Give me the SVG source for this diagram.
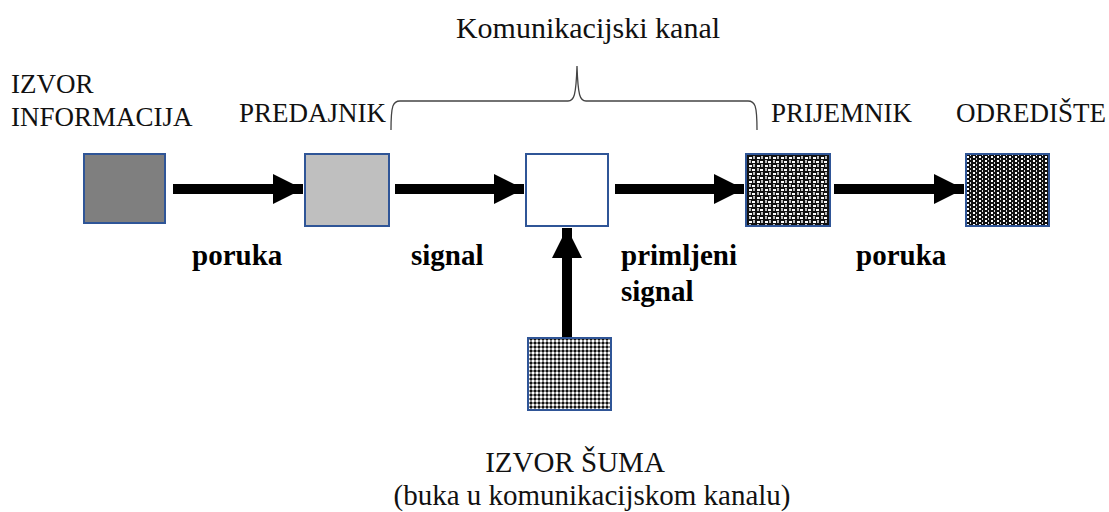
<svg xmlns="http://www.w3.org/2000/svg" width="1109" height="512" viewBox="0 0 1109 512">
<style>
.n{stroke:#2f5597;stroke-width:2}
.a{stroke:#000;stroke-width:10;fill:none}
.t{font-family:'Liberation Serif','Times New Roman',serif;font-size:27px;fill:#111}
.b{font-family:'Liberation Serif','Times New Roman',serif;font-size:29px;font-weight:bold;fill:#000}
</style>
<defs>
<pattern id="weave" width="8" height="8" patternUnits="userSpaceOnUse">
<rect width="8" height="8" fill="#111"/>
<rect x="0" y="1" width="3" height="2" fill="#fff"/>
<rect x="5" y="5" width="3" height="2" fill="#fff"/>
<rect x="1" y="4" width="2" height="3" fill="#bbb"/>
<rect x="5" y="0" width="2" height="3" fill="#bbb"/>
</pattern>
<pattern id="vstripe" width="6" height="4" patternUnits="userSpaceOnUse">
<rect width="6" height="4" fill="#111"/>
<rect x="1" y="0" width="2" height="2" fill="#fff"/>
<rect x="4" y="2" width="1" height="2" fill="#ddd"/>
</pattern>
<pattern id="check" width="4" height="4" patternUnits="userSpaceOnUse">
<rect width="4" height="4" fill="#888"/>
<rect x="0" y="0" width="2" height="2" fill="#fff"/>
<rect x="2" y="2" width="2" height="2" fill="#111"/>
</pattern>
<marker id="ah" viewBox="0 0 10 10" refX="10" refY="5" markerWidth="3" markerHeight="3" orient="auto" markerUnits="strokeWidth">
<path d="M0,0 L10,5 L0,10 Z" fill="#000"/>
</marker>
</defs>
<text class="t" x="588" y="38" text-anchor="middle" style="font-size:30px">Komunikacijski kanal</text>
<path d="M391,130 C391,105 393,101 400,101 L568,101 C574,101 576,96 577,66 C578,96 580,101 586,101 L748,101 C755,101 757,105 757,130" fill="none" stroke="#444" stroke-width="1.3"/>
<g id="izvor">
<rect class="n" x="84" y="154" width="81" height="69" fill="#7f7f7f"/>
<text class="t" x="11" y="93">IZVOR</text>
<text class="t" x="11" y="126">INFORMACIJA</text>
</g>
<g id="predajnik">
<rect class="n" x="305" y="154" width="84" height="72" fill="#bfbfbf"/>
<text class="t" x="239" y="122">PREDAJNIK</text>
</g>
<g id="kanal">
<rect class="n" x="526" y="154" width="82" height="72" fill="#fff"/>
</g>
<g id="prijemnik">
<rect class="n" x="746" y="154" width="84" height="72" fill="url(#weave)"/>
<text class="t" x="771" y="122">PRIJEMNIK</text>
</g>
<g id="odrediste">
<rect class="n" x="966" y="154" width="83" height="72" fill="url(#vstripe)"/>
<text class="t" x="956" y="122">ODREDIŠTE</text>
</g>
<g id="sum">
<rect class="n" x="528" y="338" width="83" height="72" fill="url(#check)"/>
<text class="t" x="575" y="472" text-anchor="middle" style="font-size:29px">IZVOR ŠUMA</text>
<text class="t" x="592" y="505" text-anchor="middle" style="font-size:29px">(buka u komunikacijskom kanalu)</text>
</g>
<g id="connectors">
<line class="a" x1="173" y1="189" x2="303" y2="189" marker-end="url(#ah)"/>
<line class="a" x1="395" y1="189" x2="524" y2="189" marker-end="url(#ah)"/>
<line class="a" x1="615" y1="189" x2="744" y2="189" marker-end="url(#ah)"/>
<line class="a" x1="834" y1="189" x2="964" y2="189" marker-end="url(#ah)"/>
<line class="a" x1="567" y1="337" x2="567" y2="228" marker-end="url(#ah)"/>
</g>
<text class="b" x="192" y="265">poruka</text>
<text class="b" x="411" y="265">signal</text>
<text class="b" x="621" y="265">primljeni</text>
<text class="b" x="621" y="301">signal</text>
<text class="b" x="856" y="265">poruka</text>
</svg>
